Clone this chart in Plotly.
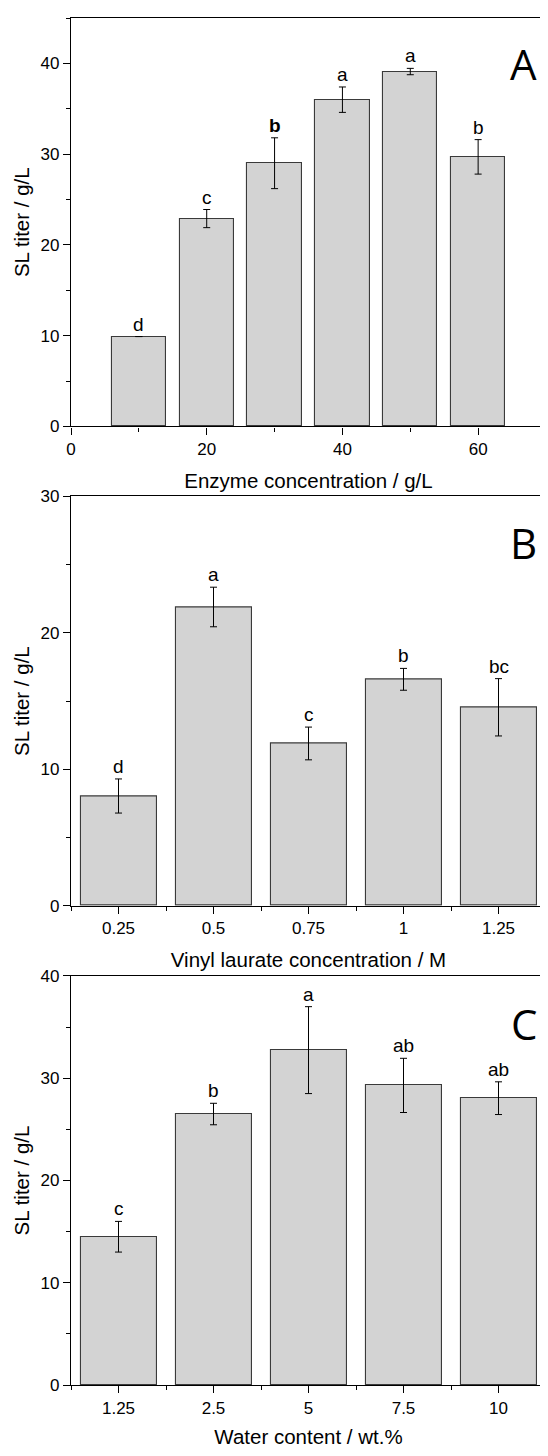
import plotly.graph_objects as go

# ---------------- data ----------------
# Panel A: enzyme concentration
enzyme_conc = [10, 20, 30, 40, 50, 60]
titer_A = [9.9, 22.9, 29.0, 36.0, 39.1, 29.7]
err_A = [None, 1.0, 2.8, 1.4, 0.35, 1.9]
letters_A = ["d", "c", "<b>b</b>", "a", "a", "b"]

# Panel B: vinyl laurate concentration
vinyl_labels = ["0.25", "0.5", "0.75", "1", "1.25"]
titer_B = [8.05, 21.9, 11.9, 16.6, 14.55]
err_B = [1.25, 1.45, 1.2, 0.8, 2.1]
letters_B = ["d", "a", "c", "b", "bc"]

# Panel C: water content
water_labels = ["1.25", "2.5", "5", "7.5", "10"]
titer_C = [14.5, 26.5, 32.75, 29.3, 28.05]
err_C = [1.5, 1.05, 4.25, 2.65, 1.6]
letters_C = ["c", "b", "a", "ab", "ab"]

FONT = "Liberation Sans, Arial, sans-serif"
BAR_FILL = "#d3d3d3"
BAR_LINE = "#3a3a3a"

fig = go.Figure()

def add_panel(x, y, err, letters, xa, ya, width):
    fig.add_trace(go.Bar(
        x=x, y=y, width=width,
        marker=dict(color=BAR_FILL, line=dict(color=BAR_LINE, width=1.1)),
        error_y=dict(type="data", array=err, visible=True, color="black",
                     thickness=1, width=3.5),
        xaxis=xa, yaxis=ya, showlegend=False,
    ))
    for xi, yi, ei, lt in zip(x, y, err, letters):
        fig.add_annotation(x=xi, y=yi + (ei or 0), text=lt, showarrow=False,
                           xref=xa, yref=ya, yanchor="bottom", yshift=0,
                           font=dict(family=FONT, size=19, color="black"))

posB = list(range(len(vinyl_labels)))
posC = list(range(len(water_labels)))

add_panel(enzyme_conc, titer_A, err_A, letters_A, "x", "y", 8)
add_panel(posB, titer_B, err_B, letters_B, "x2", "y2", 0.8)
add_panel(posC, titer_C, err_C, letters_C, "x3", "y3", 0.8)

# figure sits 8px into the page (body margin)
W, HT = 540, 1440
MT, MB = 8, 54
H = HT - MT - MB
BOT = HT - MB
def dom(top_px, bottom_px):
    return [max(0, (BOT - bottom_px) / H), min(1, (BOT - top_px) / H)]

tickfont = dict(family=FONT, size=17, color="black")
titlefont = dict(family=FONT, size=20.5, color="black")

def xax(anchor, **kw):
    d = dict(anchor=anchor, showline=True, linecolor="black", linewidth=1.3,
             mirror=True, ticks="outside", ticklen=7, tickwidth=1.2,
             tickcolor="black", tickfont=tickfont, showgrid=False,
             zeroline=False)
    d.update(kw)
    return d

def yax(anchor, domain, rng):
    return dict(anchor=anchor, domain=domain, range=rng, showline=True,
                linecolor="black", linewidth=1.3, mirror=True,
                ticks="outside", ticklen=7, tickwidth=1.2, tickcolor="black",
                dtick=10, tick0=0, tickfont=tickfont, showgrid=False,
                zeroline=False,
                minor=dict(dtick=5, tick0=0, ticks="outside", ticklen=4,
                           tickwidth=1.2, tickcolor="black", showgrid=False),
                title=dict(text="SL titer / g/L", font=titlefont, standoff=5))

minor_cat = [i - 0.5 for i in range(len(vinyl_labels) + 1)]
minor_cat_style = dict(tickmode="array", tickvals=minor_cat, ticks="outside",
                       ticklen=4, tickwidth=1.2, tickcolor="black",
                       showgrid=False)

fig.update_layout(
    width=W, height=HT,
    margin=dict(l=63, r=1, t=MT, b=MB),
    paper_bgcolor="white", plot_bgcolor="white",
    font=dict(family=FONT, color="black"),
    bargap=0,
    xaxis=xax("y", domain=[0, 1], range=[0, 70], dtick=20, tick0=0,
              minor=dict(dtick=10, tick0=0, ticks="outside", ticklen=4,
                         tickwidth=1.2, tickcolor="black", showgrid=False),
              title=dict(text="Enzyme concentration / g/L", font=titlefont,
                         standoff=15)),
    yaxis=yax("x", dom(7.7, 419.7), [0, 45]),
    xaxis2=xax("y2", domain=[0, 1], range=[-0.5, len(vinyl_labels) - 0.5],
               tickmode="array", tickvals=posB, ticktext=vinyl_labels,
               minor=minor_cat_style,
               title=dict(text="Vinyl laurate concentration / M",
                          font=titlefont, standoff=15)),
    yaxis2=yax("x2", dom(490.3, 903), [0, 30]),
    xaxis3=xax("y3", domain=[0, 1], range=[-0.5, len(water_labels) - 0.5],
               tickmode="array", tickvals=posC, ticktext=water_labels,
               minor=minor_cat_style,
               title=dict(text="Water content / wt.%", font=titlefont,
                          standoff=15)),
    yaxis3=yax("x3", dom(973.7, 1386), [0, 40]),
)

for lbl, xr, yr, yv in [("A", "x domain", "y domain", 0.888),
                        ("B", "x2 domain", "y2 domain", 0.887),
                        ("C", "x3 domain", "y3 domain", 0.883)]:
    fig.add_annotation(text=lbl, xref=xr, yref=yr, x=0.953, y=yv,
                       xanchor="center", yanchor="middle", showarrow=False,
                       font=dict(family="Open Sans, sans-serif", size=42,
                                 color="black"))

fig.write_html("out.html")
